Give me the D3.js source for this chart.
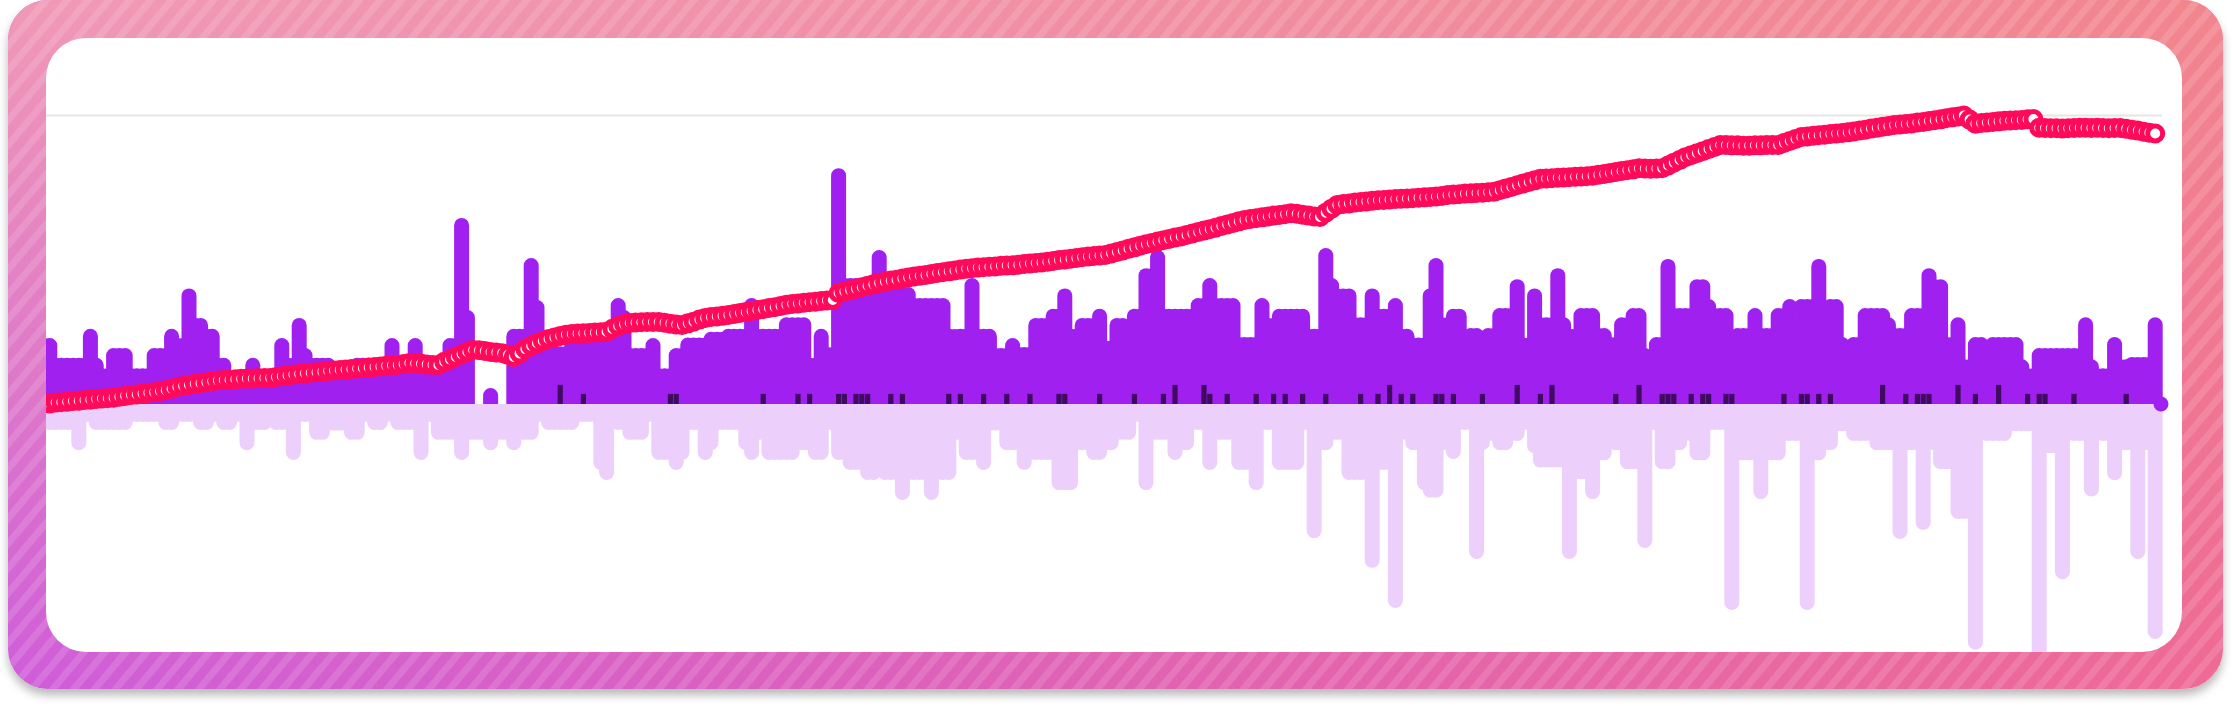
<!DOCTYPE html>
<html><head><meta charset="utf-8">
<script src="https://cdn.jsdelivr.net/npm/d3@7"></script>
<style>html,body{margin:0;padding:0;background:#fff;overflow:hidden}</style>
</head><body>
<svg id="c" width="2232" height="706"></svg>
<script>
// ---- data (one value per day) ----
const gains = [
22.8,22.8,16,16,16,16,16,16,26,16,
12.4,12.4,19.4,19.4,19.4,12.4,12.4,12.4,12.4,19.4,
19.4,19.4,26,22.8,22.8,40,29.8,29.8,26,26,
16,16,10,10,10,10,16,10,10,10,
10,22.8,16,16,29.8,19.4,16,16,16,16,
13,13,13,13,16,16,16,16,16,16,
22.8,14,14,14,22.8,17.5,14,14,14,14,
22.8,22.8,64.4,32.5,0,0,0,5.5,0,0,
0,26,26,26,50.5,36,20,20,20,20,
20,26,22,22,22,22,22,22,22,36.7,
32.5,19.4,19.4,19.4,19.4,22.8,12.4,12.4,12.4,19.4,
19.4,23,23,23,23,25,25,25,26,26,
26,26,36.7,26,26,26,26,26,30,30,
30,30,16,16,26,19.7,19.7,81.6,43.6,43.6,
43.6,43.6,43.6,43.6,53.3,43.6,43.6,40.5,40.5,40.5,
36.7,36.7,36.7,36.7,36.7,36.7,26,26,26,26,
43.6,26,26,26,19.4,19.4,19.4,22.8,19.7,19.7,
19.7,29.8,29.8,29.8,33,33,40,26,26,29.8,
29.8,29.8,33,22,22,29.8,29.8,26,33,33,
47,47,53.3,33,33,33,33,33,33,36.7,
36.7,43.6,36.7,36.7,36.7,36.7,23.2,23.2,23.2,23.2,
36.7,29.8,29.8,33,33,33,33,33,26,26,
26,54,43.6,40,40,40,30,30,30,40,
33,33,33,36.7,26,26,23,23,23,40,
50.5,30,30,33,33,23.2,26.3,26.3,19.4,26.3,
26.3,33.2,33.2,33.2,43.2,23,23,40,30,30,
30,47,30,26,26,33.2,33.2,33.2,26.3,26.3,
23.2,23.2,30,30,33.2,33.2,19.4,16.3,23.2,23.2,
50.2,33.2,33.2,33.2,33.2,43.2,43.2,36.3,33.2,33.2,
33.2,23.2,26.3,26.3,26.3,33.2,26.3,26.3,26.3,33.2,
33.2,36.3,30,36.3,36.3,36.3,50.2,33.2,36.3,36.3,
23.2,19.4,23.2,23.2,33.2,33.2,33.2,33.2,30,26.3,
26.3,26.3,33.2,33.2,33.2,47,43.2,43.2,23.2,23.2,
30,15.5,15.5,23.2,23.2,19.4,23.2,23.2,23.2,23.2,
23.2,15.5,12.4,12.4,19.4,19.4,19.4,19.4,19.4,19.4,
19.4,19.4,30,15.5,12.4,12.4,12.4,23.2,15.5,15.5,
16.3,16.3,16.3,16.3,30,0];

const losses = [
-9,-9,-9,-9,-9,-9,-16,-6.2,-6.2,-9,
-9,-9,-9,-9,-9,-6.2,-6.2,-6.2,-6.2,-6.2,
-6.2,-9,-9,-6.2,-6.2,-6.2,-6.2,-9,-9,-6.2,
-6.2,-9,-9,-6.2,-6.2,-16,-9,-9,-9,-6.2,
-9,-9,-9,-19.4,-6.2,-6.2,-6.2,-12.4,-12.4,-9.2,
-9.2,-9.2,-9.2,-12.4,-12.4,-6.2,-6.2,-9,-9,-6.2,
-6.2,-9,-9,-9,-9,-19.4,-6.2,-6.2,-12.4,-12.4,
-12.4,-12.4,-19.4,-12.4,-12.4,-12.4,-12.4,-16,-12.4,-12.4,
-12.4,-16,-12.4,-12.4,-12.4,-6.2,-6.2,-9,-9,-9,
-9,-9,-6.2,-6.2,-6.2,-6.2,-22.8,-26.3,-6.2,-9,
-9,-12.4,-12.4,-12.4,-6.2,-6.2,-19.4,-19.4,-19.4,-22.8,
-19.4,-9,-9,-9,-19.4,-16,-9,-9,-9,-9,
-9,-16,-19.4,-12.4,-12.4,-19.4,-19.4,-19.4,-19.4,-19.4,
-16,-16,-16,-19.4,-19.4,-9,-9,-19.4,-19.4,-22.8,
-22.8,-22.8,-26.3,-26.3,-19.4,-26.3,-26.3,-26.3,-33.2,-26.3,
-26.3,-26.3,-26.3,-33.2,-26.3,-26.3,-26.3,-12.4,-12.4,-19.4,
-19.4,-19.4,-22.8,-9.2,-9.2,-9.2,-16,-16,-16,-22.8,
-19.4,-19.4,-19.4,-19.4,-19.4,-29.8,-29.8,-29.8,-16,-16,
-16,-19.4,-19.4,-16,-16,-12.4,-12.4,-12.4,-6.2,-6.2,
-29.8,-12.4,-12.4,-12.4,-12.4,-19.4,-16,-16,-9,-9,
-9,-22.8,-12.4,-12.4,-12.4,-12.4,-22.8,-22.8,-22.8,-29.8,
-9,-9,-9,-22.8,-22.8,-22.8,-22.8,-9,-9,-46.4,
-16,-16,-12.4,-12.4,-12.4,-26.3,-26.3,-26.3,-26.3,-56.7,
-22.8,-22.8,-22.8,-70.6,-12.4,-12.4,-16,-16,-29.8,-32.4,
-32.4,-16,-16,-19,-9,-9,-9,-53.6,-16,-12.8,
-12.8,-16,-16,-12.8,-12.8,-9,-9,-17,-22,-22,
-22,-22,-22,-53.6,-26,-26,-26,-32.9,-19.5,-19.5,
-12.8,-16,-16,-22.6,-22.6,-22.6,-49.8,-9,-9,-22.6,
-22.6,-16,-16,-12.8,-12.8,-19.5,-19.5,-9,-9,-9,
-9,-71.3,-19.5,-19.5,-19.5,-19.5,-32.9,-19.5,-19.5,-19.5,
-12.8,-12.8,-12.8,-12.8,-71.3,-19.5,-19.5,-16,-16,-9.4,
-9.4,-9.4,-12.8,-12.8,-12.8,-12.8,-16,-16,-16,-16,
-46.7,-16,-16,-16,-43.6,-16,-16,-22.6,-22.6,-22.6,
-39.8,-39.8,-39.8,-85,-4.5,-12.8,-12.8,-12.8,-12.8,-9.4,
-9.4,-9.4,-9.4,-9.4,-88,-17,-17,-17,-60.6,-9.4,
-12.8,-12.8,-12.8,-32,-9.4,-12.8,-12.8,-26.4,-16,-16,
-16,-53.6,-16,-16,-81.3,0];

const trend = [
0.3,0.2,0.5,0.6,0.8,1.0,1.1,1.4,1.5,1.7,
1.9,2.0,2.2,2.5,2.8,3.1,3.3,3.6,3.9,4.1,
4.4,4.8,5.3,5.9,6.2,6.6,7.0,7.2,7.5,7.9,
8.1,8.3,8.4,8.6,8.7,8.8,8.8,8.9,9.0,9.0,
9.3,9.6,9.9,10.2,10.4,10.6,10.8,11.0,11.2,11.4,
11.6,11.8,11.9,12.1,12.3,12.4,12.6,12.8,13.0,13.2,
13.4,13.5,13.8,14.2,14.1,13.9,13.7,13.5,13.5,14.6,
15.4,16.3,17.2,18.0,18.7,18.6,18.3,18.0,17.8,17.6,
17.0,16.3,17.5,19.0,20.1,21.0,21.8,22.5,23.0,23.5,
24.0,24.2,24.4,24.5,24.6,24.7,24.8,25.0,26.0,27.0,
27.6,28.0,28.2,28.3,28.4,28.4,28.4,28.1,27.8,27.5,
27.3,27.9,28.5,29.2,29.8,30.1,30.3,30.5,30.8,31.1,
31.5,31.8,32.2,32.5,32.8,33.2,33.5,33.9,34.3,34.6,
34.8,35.0,35.2,35.4,35.6,35.8,36.0,38.4,38.9,39.4,
39.9,40.4,40.9,41.4,41.9,42.3,42.7,43.0,43.4,43.8,
44.1,44.4,44.6,45.0,45.3,45.6,45.9,46.2,46.5,46.8,
47.0,47.2,47.3,47.5,47.6,47.8,47.9,48.0,48.2,48.4,
48.6,48.8,49.0,49.2,49.5,49.8,50.0,50.3,50.5,50.8,
51.0,51.2,51.4,51.6,52.1,52.6,53.1,53.7,54.2,54.8,
55.3,55.7,56.2,56.7,57.1,57.6,58.0,58.5,59.0,59.5,
60.0,60.5,61.0,61.6,62.1,62.6,63.2,63.7,64.0,64.3,
64.6,64.9,65.2,65.4,65.7,66.0,65.8,65.5,65.2,64.9,
64.7,66.2,67.6,68.9,69.2,69.4,69.7,69.9,70.1,70.3,
70.5,70.6,70.8,70.9,71.0,71.1,71.2,71.4,71.5,71.6,
71.8,72.0,72.3,72.5,72.6,72.8,72.9,73.0,73.1,73.3,
73.4,74.0,74.6,75.1,75.7,76.3,76.8,77.4,77.9,78.0,
78.1,78.3,78.4,78.5,78.6,78.7,78.8,79.0,79.3,79.6,
79.9,80.3,80.6,80.9,81.2,81.6,81.5,81.4,81.5,81.6,
82.5,83.5,84.4,85.4,86.1,86.8,87.5,88.2,88.9,89.6,
89.6,89.5,89.5,89.4,89.4,89.5,89.5,89.6,89.6,89.6,
90.3,91.0,91.7,92.4,92.6,92.8,93.0,93.2,93.4,93.6,
93.8,94.0,94.3,94.6,94.9,95.3,95.6,95.9,96.2,96.5,
96.7,96.9,97.1,97.4,97.6,97.9,98.2,98.5,98.9,99.2,
99.5,99.8,98.4,97.0,97.2,97.4,97.6,97.8,98.0,98.1,
98.2,98.3,98.5,98.6,95.6,95.5,95.4,95.4,95.3,95.4,
95.5,95.6,95.6,95.5,95.6,95.5,95.4,95.5,95.5,95.2,
94.9,94.6,94.2,93.9,93.6];

// small dark markers sitting on the baseline (day index, value)
const markDays = [89,93,108,109,124,130,132,137,138,140,141,142,146,148,156,158,162,166,170,175,176,182,188,193,195,200,201,204,209,212,214,217,221,227,230,232,234,236,240,241,243,248,254,258,260,271,275,279,280,281,284,286,287,290,291,300,303,304,306,308,317,321,323,324,325,330,333,337,342,344,345,350,359];
const markValues = [6.6,3.5,3.5,3.5,3.5,3.5,3.5,3.5,3.5,3.5,3.5,3.5,3.5,3.5,3.5,3.5,3.5,3.5,3.5,3.5,3.5,3.5,3.5,3.5,6.6,6.6,3.5,3.5,3.5,3.5,3.5,3.5,3.5,3.5,3.5,6.6,3.5,3.5,3.5,3.5,3.5,3.5,6.6,3.5,6.6,3.5,6.6,3.5,3.5,3.5,3.5,3.5,3.5,3.5,3.5,3.5,3.5,3.5,3.5,3.5,6.6,3.5,3.5,3.5,3.5,6.6,3.5,6.6,3.5,3.5,3.5,3.5,3.5];

const yTicks = [100];
const days = d3.range(gains.length);

// ---- layout ----
const svg = d3.select('#c');
const defs = svg.append('defs');

const frame = {x: 8, y: 0, w: 2215, h: 689, r: 40};
const card = {x: 46, y: 38, w: 2136, h: 614, r: 40};

const f = defs.append('filter').attr('id','sh').attr('x','-5%').attr('y','-5%').attr('width','110%').attr('height','120%');
f.append('feDropShadow').attr('dx',0).attr('dy',6).attr('stdDeviation',5).attr('flood-color','#000').attr('flood-opacity',0.28);

const gBot = defs.append('linearGradient').attr('id','gBot').attr('x1',0).attr('x2',1).attr('y1',0).attr('y2',0);
gBot.append('stop').attr('offset',0).attr('stop-color','#cf5dda');
gBot.append('stop').attr('offset',0.5).attr('stop-color','#e062b4');
gBot.append('stop').attr('offset',1).attr('stop-color','#ef6a96');
const gTop = defs.append('linearGradient').attr('id','gTop').attr('x1',0).attr('x2',1).attr('y1',0).attr('y2',0);
gTop.append('stop').attr('offset',0).attr('stop-color','#f09ab6');
gTop.append('stop').attr('offset',1).attr('stop-color','#f1868e');
const gFade = defs.append('linearGradient').attr('id','gFade').attr('x1',0).attr('x2',0).attr('y1',0).attr('y2',1);
gFade.append('stop').attr('offset',0).attr('stop-color','#fff');
gFade.append('stop').attr('offset',1).attr('stop-color','#000');
const mask = defs.append('mask').attr('id','fade');
mask.append('rect').attr('x',frame.x).attr('y',frame.y).attr('width',frame.w).attr('height',frame.h).attr('fill','url(#gFade)');

const pat = defs.append('pattern').attr('id','stripes').attr('patternUnits','userSpaceOnUse')
  .attr('width',16).attr('height',16).attr('patternTransform','rotate(40)');
pat.append('rect').attr('x',0).attr('y',0).attr('width',7).attr('height',16).attr('fill','#fff').attr('fill-opacity',0.13);

function frameRect(fill){
  return svg.append('rect').attr('x',frame.x).attr('y',frame.y).attr('width',frame.w).attr('height',frame.h)
    .attr('rx',frame.r).attr('ry',frame.r).attr('fill',fill);
}
frameRect('url(#gBot)').attr('filter','url(#sh)');
frameRect('url(#gTop)').attr('mask','url(#fade)');
frameRect('url(#stripes)');

svg.append('rect').attr('x',card.x).attr('y',card.y).attr('width',card.w).attr('height',card.h)
  .attr('rx',card.r).attr('ry',card.r).attr('fill','#fff');

defs.append('clipPath').attr('id','cardClip').append('rect')
  .attr('x',card.x).attr('y',card.y).attr('width',card.w).attr('height',card.h).attr('rx',card.r).attr('ry',card.r);

// ---- scales ----
const x = d3.scalePoint().domain(days).range([44, 2161]);
const y = d3.scaleLinear().domain([0, 100]).range([404, 115]);

const g = svg.append('g').attr('clip-path','url(#cardClip)');

const yAxis = d3.axisLeft(y).tickValues(yTicks).tickSize(-(2162 - card.x)).tickFormat('');
const ga = g.append('g').attr('transform',`translate(${card.x},0)`).call(yAxis);
ga.select('.domain').remove();
ga.selectAll('.tick line').attr('stroke','#e6e6e6').attr('stroke-width',2);

const BW = 15;
function barPath(cx, y0, y1, w){
  const r = w/2, h = Math.abs(y1 - y0);
  if (h <= 0.01) return '';
  const up = y1 < y0;
  const rr = Math.min(r, h);
  const yc = up ? y1 + rr : y1 - rr;
  return `M${cx-r},${y0}L${cx-r},${yc}A${r},${rr} 0 0 ${up?1:0} ${cx+r},${yc}L${cx+r},${y0}Z`;
}

g.append('g').selectAll('path').data(losses).join('path')
  .attr('d', (d,i) => barPath(x(i), y(0), y(d), BW))
  .attr('fill','#ecd0fb');

g.append('g').selectAll('path').data(gains).join('path')
  .attr('d', (d,i) => barPath(x(i), y(0), y(d), BW))
  .attr('fill','#a020f0');

const lastI = gains.length - 1;
g.append('circle').attr('cx', x(lastI)).attr('cy', y(0)).attr('r', 7.5).attr('fill','#a020f0');

g.append('g').selectAll('rect').data(markDays).join('rect')
  .attr('x', d => x(d) - 2.6)
  .attr('width', 5.2)
  .attr('y', (d,k) => y(markValues[k]))
  .attr('height', (d,k) => y(0) - y(markValues[k]))
  .attr('fill','#3e0b60');

const line = d3.line().x((d,i) => x(i)).y(d => y(d));
g.append('path').datum(trend).attr('d', line).attr('fill','none')
  .attr('stroke','#ff0a5b').attr('stroke-width',8);
g.append('g').selectAll('circle').data(trend).join('circle')
  .attr('cx', (d,i) => x(i)).attr('cy', d => y(d)).attr('r', 7.5)
  .attr('fill','#fff').attr('stroke','#ff0a5b').attr('stroke-width',5);
</script>
</body></html>
